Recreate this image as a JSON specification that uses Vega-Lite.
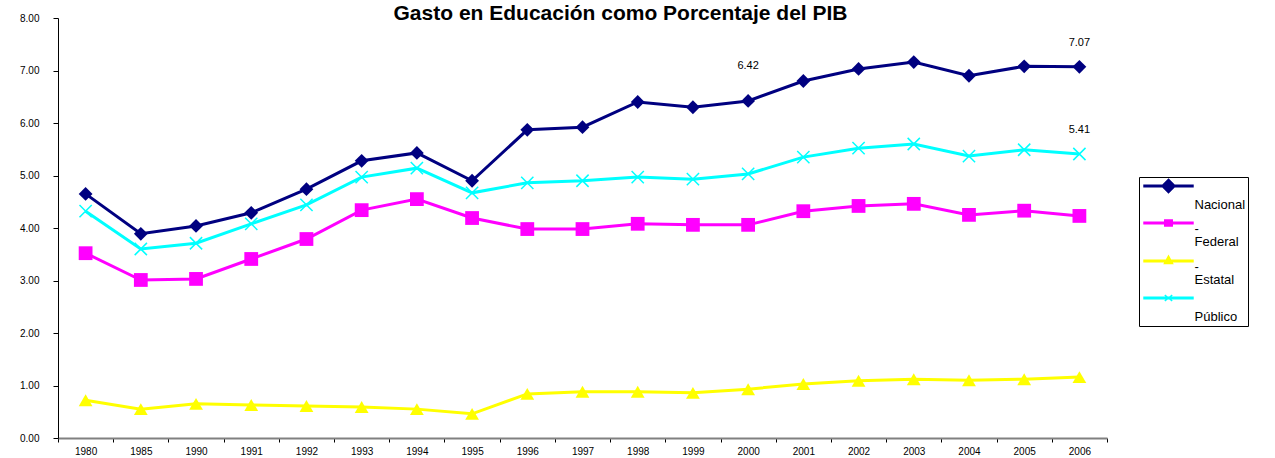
{
  "$schema": "https://vega.github.io/schema/vega-lite/v6.json",
  "autosize": {"type": "none"},
  "padding": {"left": 58, "top": 18, "right": 168, "bottom": 20},
  "width": 1049,
  "height": 420,
  "background": "white",
  "config": {"view": {"stroke": null}, "font": "Liberation Sans"},
  "title": {
    "text": "Gasto en Educación como Porcentaje del PIB",
    "fontSize": 21, "fontWeight": "bold", "font": "Liberation Sans", "color": "black",
    "anchor": "middle", "frame": "group", "dx": 38, "baseline": "bottom", "offset": -32
  },
  "data": {"values": [
    {"year": "1980", "series": "Nacional", "value": 4.65},
    {"year": "1985", "series": "Nacional", "value": 3.89},
    {"year": "1990", "series": "Nacional", "value": 4.04},
    {"year": "1991", "series": "Nacional", "value": 4.29},
    {"year": "1992", "series": "Nacional", "value": 4.74},
    {"year": "1993", "series": "Nacional", "value": 5.28},
    {"year": "1994", "series": "Nacional", "value": 5.43},
    {"year": "1995", "series": "Nacional", "value": 4.90},
    {"year": "1996", "series": "Nacional", "value": 5.87},
    {"year": "1997", "series": "Nacional", "value": 5.92},
    {"year": "1998", "series": "Nacional", "value": 6.40},
    {"year": "1999", "series": "Nacional", "value": 6.30},
    {"year": "2000", "series": "Nacional", "value": 6.42},
    {"year": "2001", "series": "Nacional", "value": 6.80},
    {"year": "2002", "series": "Nacional", "value": 7.03},
    {"year": "2003", "series": "Nacional", "value": 7.16},
    {"year": "2004", "series": "Nacional", "value": 6.90},
    {"year": "2005", "series": "Nacional", "value": 7.08},
    {"year": "2006", "series": "Nacional", "value": 7.07},
    {"year": "1980", "series": "Federal", "value": 3.52},
    {"year": "1985", "series": "Federal", "value": 3.01},
    {"year": "1990", "series": "Federal", "value": 3.03},
    {"year": "1991", "series": "Federal", "value": 3.41},
    {"year": "1992", "series": "Federal", "value": 3.79},
    {"year": "1993", "series": "Federal", "value": 4.34},
    {"year": "1994", "series": "Federal", "value": 4.55},
    {"year": "1995", "series": "Federal", "value": 4.19},
    {"year": "1996", "series": "Federal", "value": 3.98},
    {"year": "1997", "series": "Federal", "value": 3.98},
    {"year": "1998", "series": "Federal", "value": 4.08},
    {"year": "1999", "series": "Federal", "value": 4.06},
    {"year": "2000", "series": "Federal", "value": 4.06},
    {"year": "2001", "series": "Federal", "value": 4.32},
    {"year": "2002", "series": "Federal", "value": 4.42},
    {"year": "2003", "series": "Federal", "value": 4.46},
    {"year": "2004", "series": "Federal", "value": 4.25},
    {"year": "2005", "series": "Federal", "value": 4.33},
    {"year": "2006", "series": "Federal", "value": 4.23},
    {"year": "1980", "series": "Estatal", "value": 0.72},
    {"year": "1985", "series": "Estatal", "value": 0.55},
    {"year": "1990", "series": "Estatal", "value": 0.65},
    {"year": "1991", "series": "Estatal", "value": 0.63},
    {"year": "1992", "series": "Estatal", "value": 0.61},
    {"year": "1993", "series": "Estatal", "value": 0.59},
    {"year": "1994", "series": "Estatal", "value": 0.55},
    {"year": "1995", "series": "Estatal", "value": 0.46},
    {"year": "1996", "series": "Estatal", "value": 0.84},
    {"year": "1997", "series": "Estatal", "value": 0.88},
    {"year": "1998", "series": "Estatal", "value": 0.88},
    {"year": "1999", "series": "Estatal", "value": 0.86},
    {"year": "2000", "series": "Estatal", "value": 0.93},
    {"year": "2001", "series": "Estatal", "value": 1.03},
    {"year": "2002", "series": "Estatal", "value": 1.09},
    {"year": "2003", "series": "Estatal", "value": 1.12},
    {"year": "2004", "series": "Estatal", "value": 1.10},
    {"year": "2005", "series": "Estatal", "value": 1.12},
    {"year": "2006", "series": "Estatal", "value": 1.16},
    {"year": "1980", "series": "Público", "value": 4.32},
    {"year": "1985", "series": "Público", "value": 3.60},
    {"year": "1990", "series": "Público", "value": 3.71},
    {"year": "1991", "series": "Público", "value": 4.08},
    {"year": "1992", "series": "Público", "value": 4.44},
    {"year": "1993", "series": "Público", "value": 4.97},
    {"year": "1994", "series": "Público", "value": 5.14},
    {"year": "1995", "series": "Público", "value": 4.67},
    {"year": "1996", "series": "Público", "value": 4.86},
    {"year": "1997", "series": "Público", "value": 4.90},
    {"year": "1998", "series": "Público", "value": 4.97},
    {"year": "1999", "series": "Público", "value": 4.93},
    {"year": "2000", "series": "Público", "value": 5.03},
    {"year": "2001", "series": "Público", "value": 5.35},
    {"year": "2002", "series": "Público", "value": 5.52},
    {"year": "2003", "series": "Público", "value": 5.60},
    {"year": "2004", "series": "Público", "value": 5.37},
    {"year": "2005", "series": "Público", "value": 5.49},
    {"year": "2006", "series": "Público", "value": 5.41}
  ]},
  "encoding": {
    "x": {
      "field": "year", "type": "ordinal", "sort": null,
      "scale": {"type": "band", "paddingInner": 0, "paddingOuter": 0},
      "axis": {
        "title": null, "labelAngle": 0, "tickBand": "extent",
        "domainColor": "#808080", "domainWidth": 2, "tickColor": "black", "tickSize": 4,
        "labelFontSize": 10, "labelColor": "black", "labelPadding": 4, "labelFont": "Liberation Sans"
      }
    },
    "y": {
      "field": "value", "type": "quantitative",
      "scale": {"domain": [0, 8], "nice": false},
      "axis": {
        "title": null, "values": [0, 1, 2, 3, 4, 5, 6, 7, 8], "format": ".2f", "grid": false,
        "domainColor": "black", "tickColor": "black", "tickSize": 5,
        "labelFontSize": 10, "labelPadding": 14, "labelColor": "black", "labelFont": "Liberation Sans"
      }
    }
  },
  "layer": [
    {
      "mark": {"type": "line", "strokeWidth": 3},
      "encoding": {
        "color": {
          "field": "series", "type": "nominal",
          "scale": {"domain": ["Nacional", "Federal", "Estatal", "Público"], "range": ["#000080", "#FF00FF", "#FFFF00", "#00FFFF"]},
          "legend": {
            "orient": "none", "legendX": 1081, "legendY": 159, "title": null,
            "strokeColor": "black", "fillColor": "white", "padding": 2, "cornerRadius": 0,
            "symbolSize": 144, "symbolOffset": 20.5, "labelOffset": 19, "labelBaseline": "top",
            "labelFontSize": 13, "labelFont": "Liberation Sans", "labelColor": "black", "labelLimit": 0,
            "rowPadding": 4,
            "labelExpr": "datum.label == 'Federal' || datum.label == 'Estatal' ? ['\u00a0\u00a0\u00a0\u00a0\u00a0\u00a0\u00a0\u00a0-', datum.label] : ['', datum.label]",
            "encode": {
              "labels": {"update": {"lineHeight": {"value": 13}}},
              "symbols": {
                "update": {
                  "shape": {"signal": "datum.value == 'Nacional' ? 'M-4.08,-0.125H4.08V0.125H-4.08ZM0,-1.1L1.1,0L0,1.1L-1.1,0Z' : datum.value == 'Federal' ? 'M-4.08,-0.125H4.08V0.125H-4.08ZM-0.62,-0.5H0.62V0.5H-0.62Z' : datum.value == 'Estatal' ? 'M-4.08,-0.125H4.08V0.125H-4.08ZM0,-0.83L0.67,0.42H-0.67Z' : 'M-4.08,-0.125H4.08V0.125H-4.08ZM-0.62,-0.5L0.62,0.5M-0.62,0.5L0.62,-0.5'"},
                  "fill": {"signal": "scale('color', datum.value)"},
                  "stroke": {"signal": "scale('color', datum.value)"},
                  "strokeWidth": {"value": 1.5},
                  "opacity": {"value": 1},
                  "fillOpacity": {"value": 1}
                }
              }
            }
          }
        }
      }
    },
    {
      "transform": [{"filter": "datum.series != 'Público'"}],
      "mark": {"type": "point", "filled": true, "opacity": 1, "size": 190},
      "encoding": {
        "color": {"field": "series", "type": "nominal"},
        "shape": {
          "field": "series", "type": "nominal",
          "scale": {"domain": ["Nacional", "Federal", "Estatal"], "range": ["diamond", "square", "triangle-up"]},
          "legend": null
        }
      }
    },
    {
      "transform": [{"filter": "datum.series == 'Público'"}],
      "mark": {"type": "point", "filled": false, "shape": "M-1,-1L1,1M-1,1L1,-1", "size": 150, "strokeWidth": 1.5, "opacity": 1},
      "encoding": {"color": {"field": "series", "type": "nominal"}}
    },
    {
      "transform": [{"filter": "datum.series == 'Nacional' && datum.year == '2000'"}],
      "mark": {"type": "text", "dy": -35, "fontSize": 11, "font": "Liberation Sans", "color": "black"},
      "encoding": {"text": {"field": "value", "type": "quantitative", "format": ".2f"}}
    },
    {
      "transform": [{"filter": "(datum.series == 'Nacional' || datum.series == 'Público') && datum.year == '2006'"}],
      "mark": {"type": "text", "dy": -24, "fontSize": 11, "font": "Liberation Sans", "color": "black"},
      "encoding": {"text": {"field": "value", "type": "quantitative", "format": ".2f"}}
    }
  ]
}
